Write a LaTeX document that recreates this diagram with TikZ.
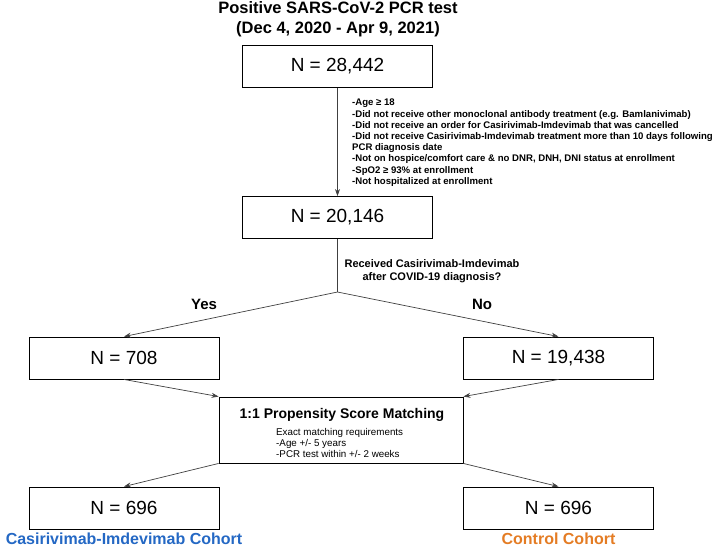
\documentclass[tikz,border=0pt]{standalone}
\usepackage{fontspec}
\setmainfont{Liberation Sans}
\usetikzlibrary{arrows.meta}
\definecolor{cohortblue}{RGB}{36,104,196}
\definecolor{cohortorange}{RGB}{228,124,36}

\begin{document}
\begin{tikzpicture}[x=1pt,y=-1pt,
  box/.style={draw,line width=0.9pt,minimum width=190pt,minimum height=42pt,inner sep=0pt,font=\fontsize{19}{20}\selectfont},
  arr/.style={draw=black!75,line width=0.7pt,-{Stealth[length=7pt,width=5pt]}},
  crit/.style={font=\bfseries\fontsize{9.6}{11.2}\selectfont,align=left,inner sep=0pt},
  cohort/.style={font=\bfseries\fontsize{16}{16}\selectfont,inner sep=0pt,anchor=base}]
  \useasboundingbox (0,0) rectangle (716,547);

  % Title
  \node[font=\bfseries\fontsize{16.5}{20}\selectfont,align=center] (title) at (338,19)
    {Positive SARS-CoV-2 PCR test\\(Dec 4, 2020 - Apr 9, 2021)};

  % Boxes
  \node[box] (all) at (337.5,66.5) {N = 28,442};
  \node[box] (elig) at (337.5,217.5) {N = 20,146};
  \node[box] (yes) at (124,358) {N = 708};
  \node[box] (no) at (558.5,358) {N = 19,438};
  \node[box,minimum width=244pt,minimum height=66pt] (psm) at (341,430) {};
  \node[box] (treat) at (124,508) {N = 696};
  \node[box] (ctrl) at (558.5,508) {N = 696};
  \coordinate (split) at (337.5,292);

  % Criteria
  \node[crit,anchor=north west] (excl) at (352,99)
    {-Age ≥ 18\\
     -Did not receive other monoclonal antibody treatment (e.g. Bamlanivimab)\\
     -Did not receive an order for Casirivimab-Imdevimab that was cancelled\\
     -Did not receive Casirivimab-Imdevimab treatment more than 10 days following\\
     PCR diagnosis date\\
     -Not on hospice/comfort care \& no DNR, DNH, DNI status at enrollment\\
     -SpO2 ≥ 93\% at enrollment\\
     -Not hospitalized at enrollment};
  \node[font=\bfseries\fontsize{11}{13.5}\selectfont,align=center] (quest) at (432,271)
    {Received Casirivimab-Imdevimab\\after COVID-19 diagnosis?};
  \node[font=\bfseries\fontsize{15}{15}\selectfont] (ylab) at (204,304) {Yes};
  \node[font=\bfseries\fontsize{15}{15}\selectfont] (nlab) at (482,304) {No};

  % Matching
  \node[font=\bfseries\fontsize{14}{14}\selectfont] (psmtitle) at (342,415) {1:1 Propensity Score Matching};
  \node[font=\fontsize{9.8}{11}\selectfont,align=left,anchor=north west,inner sep=0pt] (psmreq) at (276,428)
    {Exact matching requirements\\-Age +/- 5 years\\-PCR test within +/- 2 weeks};

  % Arrows
  \draw[arr] (all) -- (elig);
  \draw[draw=black!75,line width=0.7pt] (elig) -- (split);
  \draw[arr] (split) -- (yes.north);
  \draw[arr] (split) -- (no.north);
  \draw[arr] (yes.south) -- (psm.north west);
  \draw[arr] (no.south) -- (psm.north east);
  \draw[arr] (psm.south west) -- (treat.north);
  \draw[arr] (psm.south east) -- (ctrl.north);

  % Cohorts
  \node[cohort,text=cohortblue] (tlab) at (124,544) {Casirivimab-Imdevimab Cohort};
  \node[cohort,text=cohortorange] (clab) at (558.5,544) {Control Cohort};
\end{tikzpicture}
\end{document}
